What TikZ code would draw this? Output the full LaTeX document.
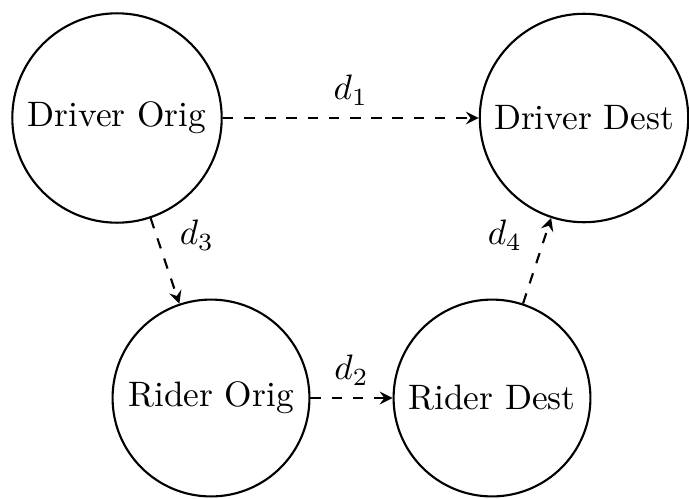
\documentclass[tikz,border=0pt]{standalone}
\usetikzlibrary{arrows}
\begin{document}
\begin{tikzpicture}[x=0.283pt, y=-0.283pt,
  place/.style={circle, draw, line width=0.6pt},
  link/.style={->, >=stealth, dashed, line width=0.6pt}]
  \useasboundingbox (0,0) rectangle (689,498);
  \node[place] (DO) at (117,118) {Driver Orig};
  \node[place] (DD) at (584,118) {Driver Dest};
  \node[place] (RO) at (211,398) {Rider Orig};
  \node[place] (RD) at (492,398) {Rider Dest};
  \draw[link] (DO) -- node[above] {$d_1$} (DD);
  \draw[link] (RO) -- node[above] {$d_2$} (RD);
  \draw[link] (DO) -- node[right=3pt, pos=0.2] {$d_3$} (RO);
  \draw[link] (RD) -- node[left=3pt, pos=0.8] {$d_4$} (DD);
\end{tikzpicture}
\end{document}
